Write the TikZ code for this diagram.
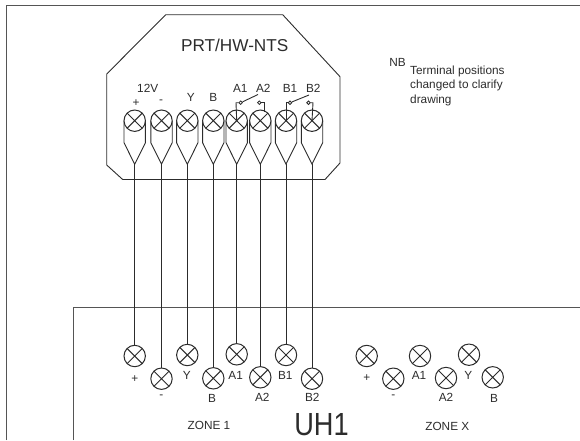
\documentclass[tikz,border=0pt]{standalone}
\usepackage{fontspec}
\setmainfont{Liberation Sans}
\definecolor{ink}{HTML}{2c2c2c}
\definecolor{frame}{HTML}{555555}
\newcommand{\lug}{-- ++(0,22) -- ++(10.7,21.5) -- ++(10.7,-21.5) -- ++(0,-22)}
\newcommand{\labelsize}{\fontsize{11.8}{14.5}\selectfont}
\tikzset{
  terminal/.style={circle, draw=ink, line width=1pt, fill=white, inner sep=0pt, minimum size=21.4pt,
    path picture={\draw[ink, line width=1pt] (path picture bounding box.north west) -- (path picture bounding box.south east)
      (path picture bounding box.south west) -- (path picture bounding box.north east);}},
  contact/.style={circle, draw=ink, line width=.8pt, fill=white, inner sep=0pt, minimum size=3.5pt},
  tag/.style={inner sep=0pt, text=ink, font=\labelsize},
  wire/.style={ink, line width=.9pt},
  edge line/.style={frame, line width=1.5pt}
}
\begin{document}
\begin{tikzpicture}[x=1pt, y=-1pt]
      \useasboundingbox (0,0) rectangle (580,440);

      % outer frame
      \draw[edge line] (6.7,440) -- (6.7,5.5) -- (580,5.5);

      % housing
      \draw[wire] (165.7,14.7) -- (282.7,14.7) -- (340,76.7) -- (340,163) -- (325,179.5) -- (122.7,179.5) -- (106.7,165) -- (106.7,74) -- cycle;
      \node[tag, font=\fontsize{17.2}{17.2}\selectfont] (title) at (234.7,45.5) {PRT/HW-NTS};

      % base unit
      \draw[edge line] (73.3,440) -- (73.3,307.5) -- (580,307.5);

      % lugs
      \draw[wire] (124,120.7) \lug;
      \draw[wire] (150.8,120.7) \lug;
      \draw[wire] (176.6,120.7) \lug;
      \draw[wire] (202.6,120.7) \lug;
      \draw[wire] (226,120.7) \lug;
      \draw[wire] (249.6,120.7) \lug;
      \draw[wire] (275.3,120.7) \lug;
      \draw[wire] (301.3,120.7) \lug;
      \coordinate (lug-p) at (134.7,164.2);
      \coordinate (lug-n) at (161.5,164.2);
      \coordinate (lug-y) at (187.3,164.2);
      \coordinate (lug-b) at (213.3,164.2);
      \coordinate (lug-a1) at (236.7,164.2);
      \coordinate (lug-a2) at (260.3,164.2);
      \coordinate (lug-b1) at (286,164.2);
      \coordinate (lug-b2) at (312,164.2);

      % upper terminals
      \node[terminal] (top-p) at (134.7,120.7) {};
      \node[terminal] (top-n) at (161.5,120.7) {};
      \node[terminal] (top-y) at (187.3,120.7) {};
      \node[terminal] (top-b) at (213.3,120.7) {};
      \node[terminal] (top-a1) at (236.7,120.7) {};
      \node[terminal] (top-a2) at (260.3,120.7) {};
      \node[terminal] (top-b1) at (286,120.7) {};
      \node[terminal] (top-b2) at (312,120.7) {};

      % upper labels
      \node[tag] (l-12v) at (147.7,88.5) {12V};
      \node[tag] (l-plus) at (136,103) {+};
      \node[tag] (l-minus) at (161,102) {-};
      \node[tag] (l-y) at (190.7,97) {Y};
      \node[tag] (l-b) at (213.3,97) {B};
      \node[tag] (l-a1) at (240.3,88.5) {A1};
      \node[tag] (l-a2) at (263.3,88.5) {A2};
      \node[tag] (l-b1) at (290,88.5) {B1};
      \node[tag] (l-b2) at (313.3,88.5) {B2};

      % relay contacts
      \node[contact] (c-a1) at (240.7,102.7) {};
      \node[contact] (c-a2) at (259.3,102.7) {};
      \node[contact] (c-b1) at (290,102.7) {};
      \node[contact] (c-b2) at (308.5,102.7) {};
      \draw[wire] (c-a1) -- (236,102.7) -- (top-a1.center);
      \draw[wire] (c-a1) -- (258,94.5);
      \draw[wire] (c-a2) -- (264.3,102.7) -- (264.3,112);
      \draw[wire] (c-b1) -- (286,102.7) -- (top-b1.center);
      \draw[wire] (c-b1) -- (309,95);
      \draw[wire] (c-b2) -- (313,102.7) -- (top-b2.center);

      % lower terminals, zone 1
      \node[terminal] (u-p) at (134.7,356) {};
      \node[terminal] (u-n) at (161.5,378.7) {};
      \node[terminal] (u-y) at (187.3,355) {};
      \node[terminal] (u-b) at (213.3,378.3) {};
      \node[terminal] (u-a1) at (236.7,354.3) {};
      \node[terminal] (u-a2) at (260.3,377.3) {};
      \node[terminal] (u-b1) at (286,355) {};
      \node[terminal] (u-b2) at (312,378.7) {};

      % wires
      \draw[wire] (lug-p) -- (u-p);
      \draw[wire] (lug-n) -- (u-n);
      \draw[wire] (lug-y) -- (u-y);
      \draw[wire] (lug-b) -- (u-b);
      \draw[wire] (lug-a1) -- (u-a1);
      \draw[wire] (lug-a2) -- (u-a2);
      \draw[wire] (lug-b1) -- (u-b1);
      \draw[wire] (lug-b2) -- (u-b2);

      % zone 1 labels
      \node[tag] (t-p) at (134.7,378.7) {+};
      \node[tag] (t-n) at (161.3,396.7) {-};
      \node[tag] (t-y) at (186.7,375.3) {Y};
      \node[tag] (t-b) at (212,398) {B};
      \node[tag] (t-a1) at (235.7,375.3) {A1};
      \node[tag] (t-a2) at (262.3,397.3) {A2};
      \node[tag] (t-b1) at (285.3,375.3) {B1};
      \node[tag] (t-b2) at (312.3,397.3) {B2};
      \node[tag] (zone-1) at (209,425.3) {ZONE 1};
      \node[tag, font=\fontsize{32}{32}\selectfont, xscale=.85] (uh1) at (321.5,424.5) {UH1};

      % zone x
      \node[terminal] (x-p) at (366.7,356) {};
      \node[terminal] (x-n) at (393.3,378.7) {};
      \node[terminal] (x-a1) at (420,356) {};
      \node[terminal] (x-a2) at (446,378) {};
      \node[terminal] (x-y) at (469,354.7) {};
      \node[terminal] (x-b) at (492.7,377.3) {};
      \node[tag] (s-p) at (366.7,378.3) {+};
      \node[tag] (s-n) at (393.3,396.7) {-};
      \node[tag] (s-a1) at (419,375.3) {A1};
      \node[tag] (s-a2) at (446,397.3) {A2};
      \node[tag] (s-y) at (468.3,375.3) {Y};
      \node[tag] (s-b) at (494,398.3) {B};
      \node[tag] (zone-x) at (447.3,426.3) {ZONE X};

      % note
      \node[tag] (nb) at (397.5,62) {NB};
      \node[tag, anchor=north west, align=left] (note) at (410,65.5) {Terminal positions\\changed to clarify\\drawing};
\end{tikzpicture}
\end{document}
